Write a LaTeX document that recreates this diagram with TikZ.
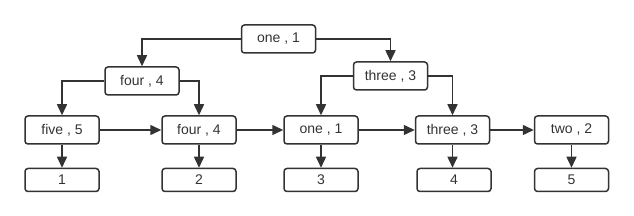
\documentclass[tikz,border=0pt]{standalone}
\usepackage{fontspec}
\setmainfont{Liberation Sans}
\usetikzlibrary{arrows.meta,positioning}
\definecolor{linec}{HTML}{333333}
\tikzset{
  ar/.style={-{Triangle[length=11pt,width=10pt]},line width=1.5pt,linec},
  box/.style={draw=linec,line width=1.5pt,rounded corners=3pt,minimum width=74pt,minimum height=28pt,inner sep=0pt,font=\fontsize{14}{16}\selectfont,text=linec},
  vbox/.style={box,minimum height=23pt}
}
\begin{document}
\begin{tikzpicture}[x=1pt,y=-1pt]
\useasboundingbox (0,0) rectangle (634,216);
% upper levels
\node[box] (top) at (278.5,39) {one , 1};
\node[box] (lfour) at (142,81) {four , 4};
\node[box] (rthree) at (390.5,76) {three , 3};
% list row
\node[box] (five) at (62,130) {five , 5};
\node[box] (four) at (199,130) {four , 4};
\node[box] (one) at (321,130) {one , 1};
\node[box] (three) at (452.5,130) {three , 3};
\node[box] (two) at (571.5,130) {two , 2};
% value row
\node[vbox] (va) at (62,180) {1};
\node[vbox] (vb) at (199,180) {2};
\node[vbox] (vc) at (321,180) {3};
\node[vbox] (vd) at (454,180) {4};
\node[vbox] (ve) at (571.5,180) {5};
\draw[ar] (top.west) -| (lfour.north);
\draw[ar] (top.east) -| (rthree.north);
\draw[ar] (lfour.west) -| (five.north);
\draw[ar] (lfour.east) -| (four.north);
\draw[ar] (rthree.west) -| (one.north);
\draw[ar] (rthree.east) -| (three.north);
\draw[ar] (five) -- (four);
\draw[ar] (four) -- (one);
\draw[ar] (one) -- (three);
\draw[ar] (three) -- (two);
\draw[ar] (five) -- (va);
\draw[ar] (four) -- (vb);
\draw[ar] (one) -- (vc);
\draw[ar] (three.south) -- (three.south|-vd.north);
\draw[ar] (two) -- (ve);
\end{tikzpicture}
\end{document}
